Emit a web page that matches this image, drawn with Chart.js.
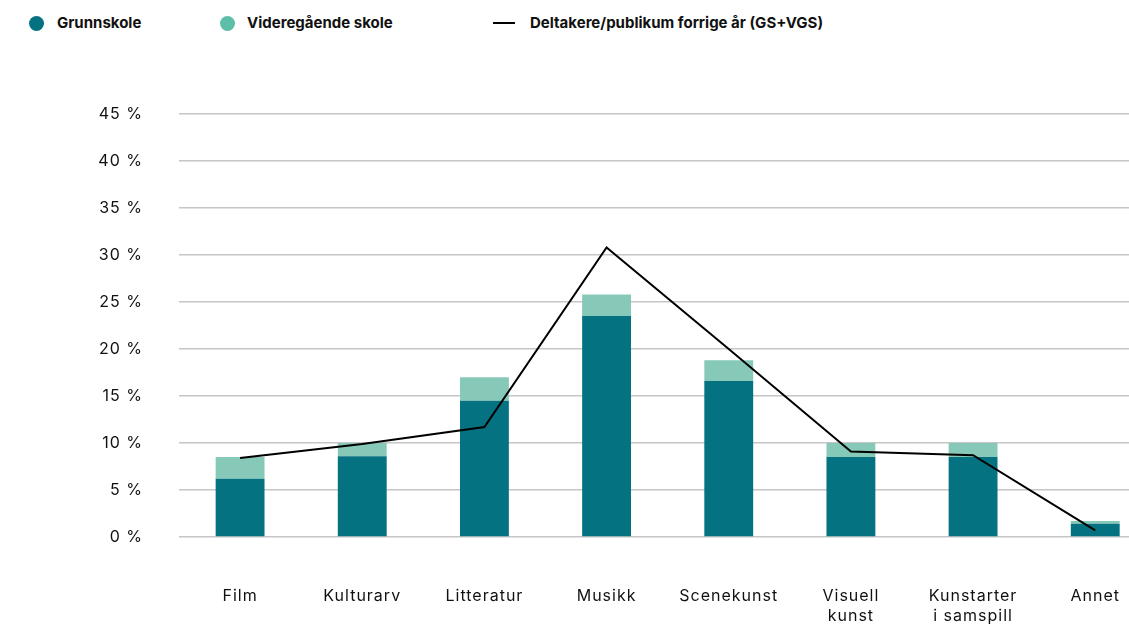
<!DOCTYPE html>
<html>
<head>
<meta charset="utf-8">
<script src="https://cdn.jsdelivr.net/npm/chart.js@4"></script>
<style>
  html, body { margin: 0; padding: 0; background: #fff; overflow: hidden; width: 1129px; height: 627px; }
  #wrap { position: absolute; left: 0; top: 0; width: 1170px; height: 627px; }
  .lg { position: absolute; font-family: Inter, "Noto Sans", sans-serif; font-weight: 700; font-size: 15px; color: #111; white-space: nowrap; line-height: 20px; top: 13px; }
  .dot { position: absolute; width: 15px; height: 15px; border-radius: 50%; top: 16px; }
  .dash { position: absolute; width: 22px; height: 2px; background: #000; top: 22px; }
</style>
</head>
<body>
<div class="dot" style="left:29px;background:#057282"></div>
<div class="lg" style="left:57px">Grunnskole</div>
<div class="dot" style="left:220px;background:#5dbfa8"></div>
<div class="lg" style="left:247px">Videregående skole</div>
<div class="dash" style="left:493px"></div>
<div class="lg" style="left:530px">Deltakere/publikum forrige år (GS+VGS)</div>
<div id="wrap"><canvas id="chart" width="1170" height="627"></canvas></div>
<script>
// Kategorier og verdier (prosent)
const categories = ['Film', 'Kulturarv', 'Litteratur', 'Musikk', 'Scenekunst', ['Visuell', 'kunst'], ['Kunstarter', 'i samspill'], 'Annet'];
const grunnskole = [6.2, 8.6, 14.5, 23.5, 16.6, 8.5, 8.5, 1.4];
const videregaende = [2.3, 1.4, 2.5, 2.3, 2.2, 1.5, 1.5, 0.3];
const forrigeAar = [8.4, 9.9, 11.7, 30.8, 20.0, 9.1, 8.7, 0.7];

const tickFont = { family: 'Inter, "Noto Sans", sans-serif', size: 16 };

// litt sperring på aksetekstene
const spacing = {
  id: 'spacing',
  beforeLayout: (c) => { c.ctx.letterSpacing = '1px'; },
  beforeDraw: (c) => { c.ctx.letterSpacing = '1px'; }
};

const chart = new Chart(document.getElementById('chart'), {
  type: 'bar',
  data: {
    labels: categories,
    datasets: [
      {
        type: 'line',
        label: 'Deltakere/publikum forrige år (GS+VGS)',
        data: forrigeAar,
        borderColor: '#000',
        borderWidth: 2,
        pointRadius: 0,
        tension: 0,
        stack: 'line',
        order: 0
      },
      {
        label: 'Grunnskole',
        data: grunnskole,
        backgroundColor: '#057282',
        stack: 'a',
        barPercentage: 0.4,
        categoryPercentage: 1,
        order: 1
      },
      {
        label: 'Videregående skole',
        data: videregaende,
        backgroundColor: '#86c9b9',
        stack: 'a',
        barPercentage: 0.4,
        categoryPercentage: 1,
        order: 1
      }
    ]
  },
  plugins: [spacing],
  options: {
    responsive: false,
    animation: false,
    layout: { padding: { top: 114, left: 0, right: 0, bottom: 0 } },
    plugins: {
      legend: { display: false },
      tooltip: { enabled: false }
    },
    scales: {
      x: {
        stacked: true,
        grid: { display: false, drawTicks: false },
        border: { display: false },
        ticks: { color: '#111', font: tickFont, padding: 50, maxRotation: 0, autoSkip: false },
        afterFit: (scale) => { scale.height = 90; }
      },
      y: {
        stacked: true,
        min: 0,
        max: 45,
        grid: { color: '#c6c6c6', lineWidth: 1.5, drawTicks: false },
        border: { display: false },
        ticks: {
          stepSize: 5,
          color: '#111',
          font: tickFont,
          padding: 36,
          callback: (v) => v + ' %'
        },
        afterFit: (scale) => { scale.width = 179; }
      }
    }
  }
});
</script>
</body>
</html>
